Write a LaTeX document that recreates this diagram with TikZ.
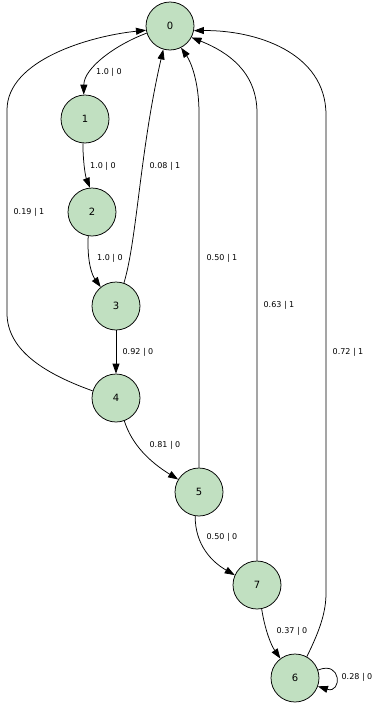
\documentclass[tikz,border=0pt]{standalone}
\usepackage{fontspec}
\setmainfont{DejaVu Sans}
\usetikzlibrary{arrows.meta}
\definecolor{nodegreen}{RGB}{193,224,193}
\tikzset{
  st/.style={circle, draw=black, line width=0.75pt, fill=nodegreen, minimum size=48pt, inner sep=0pt, font=\fontsize{10}{12}\selectfont},
  edge/.style={line width=0.75pt, -{Triangle[length=10pt,width=7pt]}},
  plain/.style={line width=0.75pt},
  lbl/.style={font=\fontsize{8}{10}\selectfont, inner sep=0pt}
}
\begin{document}
\begin{tikzpicture}[x=1pt,y=-1pt]
\useasboundingbox (0,0) rectangle (374,707);
\node[st] (n0) at (170,26) {0};
\node[st] (n1) at (85,119) {1};
\node[st] (n2) at (92,212) {2};
\node[st] (n3) at (116,306) {3};
\node[st] (n4) at (116,398) {4};
\node[st] (n5) at (199,492) {5};
\node[st] (n7) at (257,585) {7};
\node[st] (n6) at (295,678) {6};

% 0 -> 1
\draw[edge] (n0.197) .. controls (115,45) and (84,68) .. (n1.93);
\node[lbl] (l01) at (109,72) {1.0 | 0};
% 1 -> 2
\draw[edge] (n1.265) .. controls (83,160) and (85,175) .. (n2.95);
\node[lbl] (l12) at (103,166) {1.0 | 0};
% 2 -> 3
\draw[edge] (n2.261) .. controls (87,262) and (92,275) .. (n3.129);
\node[lbl] (l23) at (110,258) {1.0 | 0};
% 3 -> 0
\draw[edge] (n3.71) .. controls (137,240) and (140,150) .. (n0.254);
\node[lbl] (l30) at (165,166) {0.08 | 1};
% 3 -> 4
\draw[edge] (n3) -- (n4);
\node[lbl] (l34) at (138,352) {0.92 | 0};
% 4 -> 0
\draw[edge] (n4.163) .. controls (40,372) and (7,348) .. (7,313) -- (7,110) .. controls (7,60) and (90,36) .. (n0.190);
\node[lbl] (l40) at (29,212) {0.19 | 1};
% 4 -> 5
\draw[edge] (n4.290) .. controls (132,445) and (150,462) .. (n5.149);
\node[lbl] (l45) at (165,445) {0.81 | 0};
% 5 -> 0
\draw[edge] (n5.north) -- (199,113) .. controls (199,82) and (191,62) .. (n0.297);
\node[lbl] (l50) at (222,258) {0.50 | 1};
% 5 -> 7
\draw[edge] (n5.261) .. controls (195,545) and (212,562) .. (n7.156);
\node[lbl] (l57) at (222,537) {0.50 | 0};
% 7 -> 0
\draw[edge] (n7.north) -- (257,113) .. controls (257,72) and (228,52) .. (n0.332);
\node[lbl] (l70) at (279,305) {0.63 | 1};
% 7 -> 6
\draw[edge] (n7.281) .. controls (265,630) and (271,645) .. (n6.127);
\node[lbl] (l76) at (292,631) {0.37 | 0};
% 6 -> 0
\draw[edge] (n6.61) .. controls (320,630) and (326,612) .. (326,593) -- (326,115) .. controls (326,52) and (255,30) .. (n0.349);
\node[lbl] (l60) at (348,352) {0.72 | 1};
% 6 -> 6
\draw[edge] (n6.19) .. controls (342,660) and (342,694) .. (n6.-20);
\node[lbl] (l66) at (357,677) {0.28 | 0};
\end{tikzpicture}
\end{document}
